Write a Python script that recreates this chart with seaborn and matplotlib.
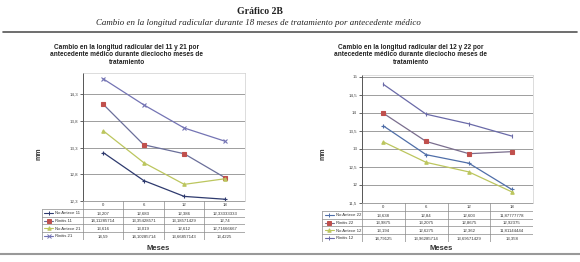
import matplotlib
matplotlib.use("Agg")
import matplotlib.pyplot as plt
import seaborn as sns
import pandas as pd

sns.set_theme(style="white")
plt.rcParams['font.family'] = ['Liberation Sans', 'DejaVu Sans']

# ---------------- data ----------------
meses = ["0", "6", "12", "18"]

left_series = ["No Antece 11", "Rinitis 11", "No Antece 21", "Rinitis 21"]
no_antece_11 = [13.207, 12.683, 12.386, 12.33333333]
rinitis_11 = [14.11285714, 13.35428571, 13.18571429, 12.74]
no_antece_21 = [13.616, 13.019, 12.612, 12.71666667]
rinitis_21 = [14.59, 14.10285714, 13.66857143, 13.4225]
left_values = [no_antece_11, rinitis_11, no_antece_21, rinitis_21]
left_yticks = [12.3, 12.8, 13.3, 13.8, 14.3]

right_series = ["No Antece 22", "Rinitis 22", "No Antece 12", "Rinitis 12"]
no_antece_22 = [13.638, 12.84, 12.603, 11.87777778]
rinitis_22 = [13.9875, 13.2075, 12.8675, 12.92375]
no_antece_12 = [13.194, 12.6275, 12.362, 11.81144444]
rinitis_12 = [14.79125, 13.96285714, 13.69571429, 13.358]
right_values = [no_antece_22, rinitis_22, no_antece_12, rinitis_12]
right_yticks = [11.5, 12, 12.5, 13, 13.5, 14, 14.5, 15]

titulo = "Gráfico 2B"
subtitulo = "Cambio en la longitud radicular durante 18 meses de tratamiento por antecedente médico"
left_title = "Cambio en la longitud radicular del 11 y 21 por\nantecedente médico durante dieciocho meses de\ntratamiento"
right_title = "Cambio en la longitud radicular del 12 y 22 por\nantecedente médico durante dieciocho meses de\ntratamiento"

# styles (per series order)
left_styles = [
    dict(color="#2e3a6e", marker="+", mfc="#2e3a6e", ms=3),
    dict(color="#6b6f9a", marker="s", mfc="#c0504d", ms=3),
    dict(color="#bcc65e", marker="^", mfc="#bcc65e", ms=2.5),
    dict(color="#7474b4", marker="x", mfc="#7474b4", ms=2.5),
]
right_styles = [
    dict(color="#4f6ea8", marker="+", mfc="#4f6ea8", ms=3),
    dict(color="#7a6e8e", marker="s", mfc="#c0504d", ms=3),
    dict(color="#bcc65e", marker="^", mfc="#bcc65e", ms=2.5),
    dict(color="#6a6aa8", marker="|", mfc="#6a6aa8", ms=3),
]

W, H = 580, 262
fig = plt.figure(figsize=(W / 100, H / 100), dpi=100)
fig.patch.set_facecolor("white")


def rect(x0, y0, x1, y1):
    return [x0 / W, 1 - y1 / H, (x1 - x0) / W, (y1 - y0) / H]


def fmt(v):
    return format(v, ".10g").replace(".", ",")


def fmt_tick(v):
    s = format(v, "g")
    return s.replace(".", ",")


# header
fig.text(260 / W, 1 - 12 / H, titulo, ha="center", va="center",
         family="Liberation Serif", fontweight="bold", fontsize=7, color="#222222")
fig.text(258 / W, 1 - 23 / H, subtitulo, ha="center", va="center",
         family="Liberation Serif", style="italic", fontsize=6.4, color="#222222")
fig.add_artist(plt.Line2D([0.005, 0.995], [1 - 31.5 / H, 1 - 31.5 / H],
                          transform=fig.transFigure, color="#555555", lw=1.2))
fig.add_artist(plt.Line2D([0.0, 1.0], [1 - 254 / H, 1 - 254 / H],
                          transform=fig.transFigure, color="#999999", lw=1.5))


def panel(plot_box, table_box, leg_w, names, values, styles, yticks, ylim,
          title, title_x, mm_x, meses_x):
    ax = fig.add_axes(rect(*plot_box))
    rows = []
    for n, vals in zip(names, values):
        for m, v in zip(meses, vals):
            rows.append({"serie": n, "mes": m, "mm": v})
    df = pd.DataFrame(rows)
    for n, st in zip(names, styles):
        sub = df[df["serie"] == n]
        sns.lineplot(data=sub, x="mes", y="mm", ax=ax, color=st["color"],
                     marker=st["marker"], markersize=st["ms"],
                     markerfacecolor=st["mfc"], markeredgecolor=st["mfc"],
                     markeredgewidth=0.8, lw=0.9, sort=False)
    ax.set_xlim(-0.5, 3.5)
    ax.set_ylim(*ylim)
    ax.set_yticks(yticks)
    ax.set_yticklabels([fmt_tick(t) for t in yticks], fontsize=3.2, color="#444444")
    ax.set_xticks([])
    ax.set_xlabel("")
    ax.set_ylabel("")
    ax.yaxis.grid(True, color="#8e8e8e", lw=0.6)
    ax.tick_params(axis="y", length=2, width=0.5, pad=1.5, left=True, direction="out")
    for s in ["top", "right", "bottom"]:
        ax.spines[s].set_color("#cfcfcf")
        ax.spines[s].set_linewidth(0.5)
    ax.spines["left"].set_color("#555555")
    ax.spines["left"].set_linewidth(0.7)

    # data table
    tx = fig.add_axes(rect(*table_box))
    tx.set_xlim(-0.5 - leg_w, 3.5)
    tx.set_ylim(5, 0)
    tx.axis("off")
    gc = "#8a8a8a"
    for xv in [-0.5, 0.5, 1.5, 2.5, 3.5]:
        tx.plot([xv, xv], [0, 5], color=gc, lw=0.5)
    tx.plot([-0.5 - leg_w, -0.5 - leg_w], [1, 5], color=gc, lw=0.5)
    tx.plot([-0.5, 3.5], [0, 0], color=gc, lw=0.5)
    for yv in [1, 2, 3, 4, 5]:
        tx.plot([-0.5 - leg_w, 3.5], [yv, yv], color=gc, lw=0.5)
    for i, m in enumerate(meses):
        tx.text(i, 0.55, m, ha="center", va="center", fontsize=3.1, color="#333333")
    x0 = -0.5 - leg_w
    for r, (n, vals, st) in enumerate(zip(names, values, styles), start=1):
        tx.plot([x0 + 0.06, x0 + 0.28], [r + 0.5, r + 0.5], color=st["color"], lw=0.8)
        tx.plot([x0 + 0.17], [r + 0.5], marker=st["marker"], ms=st["ms"],
                mfc=st["mfc"], mec=st["mfc"], mew=0.7, color=st["color"])
        tx.text(x0 + 0.33, r + 0.55, n, ha="left", va="center", fontsize=3.1, color="#333333")
        for i, v in enumerate(vals):
            tx.text(i, r + 0.55, fmt(v), ha="center", va="center", fontsize=3.1, color="#333333")

    # titles / labels
    fig.text(title_x / W, 1 - 55 / H, title, ha="center", va="center",
             fontsize=4.7, fontweight="bold", color="#222222", linespacing=1.15)
    fig.text(mm_x / W, 1 - 154 / H, "mm", ha="center", va="center", rotation=90,
             fontsize=5, fontweight="bold", color="#333333")
    fig.text(meses_x / W, 1 - 248 / H, "Meses", ha="center", va="center",
             fontsize=5.5, fontweight="bold", color="#333333")


panel((83, 73, 245, 201), (42, 201, 245, 240), 1.0, left_series, left_values,
      left_styles, left_yticks, (12.3, 14.7), left_title, 127, 39, 158)
panel((362, 75, 533, 203), (322, 203, 533, 242), 0.936, right_series, right_values,
      right_styles, right_yticks, (11.5, 15.05), right_title, 411, 323, 441)

fig.savefig("out.png", dpi=100)
